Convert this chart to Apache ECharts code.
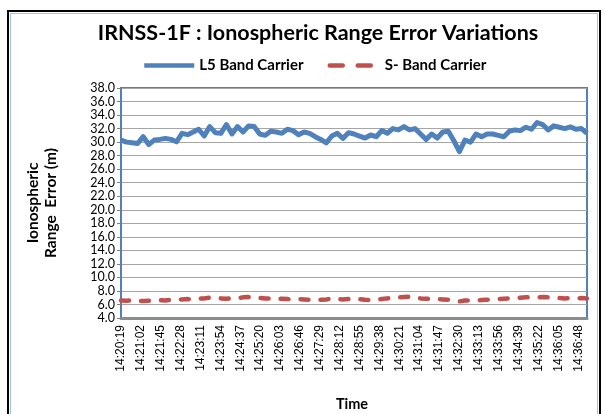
<!DOCTYPE html>
<html>
<head>
<meta charset="utf-8">
<script src="https://cdn.jsdelivr.net/npm/echarts@6/dist/echarts.min.js"></script>
<style>
  html, body { margin: 0; padding: 0; background: #fff; }
  #chart { width: 606px; height: 414px; }
</style>
</head>
<body>
<div id="chart"></div>
<script>
// time axis: seconds after 14:20:19, labels every 43 s
const START_TIME = '14:20:19';
const LABEL_STEP = 43;
const TIME_SPAN = 1008;
const SAMPLE_STEP = 12;   // one value read every 12 s along the trace

const seriesNames = ['L5 Band Carrier', 'S- Band Carrier'];

// (m)
const l5Values = [
  30.3, 30.0, 29.9, 29.8, 30.8, 29.65, 30.3, 30.4, 30.55, 30.4,
  30.05, 31.3, 31.1, 31.5, 31.9, 30.9, 32.3, 31.4, 31.3, 32.6,
  31.2, 32.3, 31.5, 32.4, 32.3, 31.2, 31.0, 31.6, 31.5, 31.3,
  31.9, 31.7, 31.1, 31.5, 31.3, 30.8, 30.4, 29.9, 30.9, 31.3,
  30.55, 31.4, 31.2, 30.9, 30.6, 31.05, 30.8, 31.7, 31.3, 32.0,
  31.8, 32.3, 31.8, 32.0, 31.2, 30.4, 31.2, 30.6, 31.5, 31.6,
  30.2, 28.6, 30.3, 30.0, 31.2, 30.8, 31.2, 31.2, 31.0, 30.8,
  31.6, 31.8, 31.7, 32.2, 31.9, 32.9, 32.6, 31.8, 32.4, 32.2,
  32.0, 32.25, 31.9, 32.0, 31.3
];

const sValues = [
  6.6, 6.55, 6.6, 6.55, 6.5, 6.55, 6.6, 6.65, 6.6, 6.7,
  6.7, 6.75, 6.8, 6.75, 6.85, 6.9, 7.0, 6.95, 6.9, 6.85,
  6.9, 6.95, 7.05, 7.1, 7.05, 6.95, 6.9, 6.85, 6.8, 6.85,
  6.8, 6.75, 6.8, 6.75, 6.7, 6.65, 6.7, 6.75, 6.85, 6.8,
  6.75, 6.8, 6.75, 6.8, 6.7, 6.65, 6.7, 6.8, 6.9, 6.95,
  7.05, 7.1, 7.15, 7.0, 6.9, 6.85, 6.8, 6.8, 6.75, 6.7,
  6.6, 6.45, 6.6, 6.55, 6.6, 6.65, 6.7, 6.75, 6.8, 6.85,
  6.9, 6.95, 7.0, 7.05, 7.1, 7.05, 7.1, 7.05, 7.0, 6.95,
  6.9, 6.95, 6.9, 6.95, 6.9
];

function toSeconds(str) {
  const p = str.split(':').map(Number);
  return p[0] * 3600 + p[1] * 60 + p[2];
}

function pad(n) {
  return (n < 10 ? '0' : '') + n;
}

function timeLabel(offset) {
  const s = toSeconds(START_TIME) + Math.round(offset);
  return Math.floor(s / 3600) + ':' + pad(Math.floor(s / 60) % 60) + ':' + pad(s % 60);
}

function withTime(values) {
  return values.map(function (v, i) { return [i * SAMPLE_STEP, v]; });
}

const chart = echarts.init(document.getElementById('chart'), null, { renderer: 'canvas' });

const option = {
  backgroundColor: '#fff',
  animation: false,
  legend: {
    left: 137,
    top: 53,
    itemWidth: 50,
    itemHeight: 14,
    itemGap: 24,
    itemStyle: { opacity: 0 },
    lineStyle: { width: 4.5 },
    textStyle: { fontFamily: 'Lato', fontWeight: 'bold', fontSize: 15, color: '#000' },
    data: [
      { name: seriesNames[0] },
      { name: seriesNames[1], lineStyle: { type: [13, 15], cap: 'round' } }
    ]
  },
  grid: {
    left: 121,
    right: 19,
    top: 88,
    bottom: 96,
    show: true,
    borderColor: '#4F81BD',
    borderWidth: 2,
    backgroundColor: '#fff'
  },
  xAxis: {
    type: 'value',
    min: 0,
    max: TIME_SPAN,
    interval: LABEL_STEP,
    axisLine: { show: true, lineStyle: { color: '#8C8C8C', width: 3 } },
    axisTick: { show: false },
    splitLine: { show: false },
    axisLabel: {
      rotate: 90,
      margin: 7,
      showMaxLabel: false,
      fontFamily: 'Liberation Sans',
      fontSize: 12,
      color: '#000',
      formatter: timeLabel
    }
  },
  yAxis: {
    type: 'value',
    min: 4,
    max: 38,
    interval: 2,
    axisLine: { show: true, lineStyle: { color: '#4F81BD', width: 2 } },
    axisTick: { show: true, length: 4, lineStyle: { color: '#808080' } },
    splitLine: { show: true, lineStyle: { color: '#A6A6A6', width: 1 } },
    axisLabel: {
      margin: 6,
      fontFamily: 'Lato',
      fontSize: 12.5,
      color: '#000',
      formatter: function (v) { return v.toFixed(1); }
    }
  },
  series: [
    {
      name: seriesNames[0],
      type: 'line',
      symbol: 'none',
      data: withTime(l5Values),
      lineStyle: { color: '#4F81BD', width: 5, join: 'round' },
      itemStyle: { color: '#4F81BD' },
      z: 3
    },
    {
      name: seriesNames[1],
      type: 'line',
      symbol: 'none',
      data: withTime(sValues),
      lineStyle: { color: '#C0504D', width: 4.5, type: [8, 12], cap: 'round' },
      itemStyle: { color: '#C0504D' },
      z: 4
    }
  ],
  graphic: [
    // chart frame
    { type: 'rect', shape: { x: 8, y: 11, width: 592, height: 420 },
      style: { fill: null, stroke: '#000', lineWidth: 2 }, silent: true },
    { type: 'rect', shape: { x: 10.5, y: 13.5, width: 587, height: 420 },
      style: { fill: null, stroke: '#9DC3E6', lineWidth: 1 }, silent: true },
    { type: 'text', x: 318, y: 33, style: {
        text: 'IRNSS-1F : Ionospheric Range Error Variations',
        fontFamily: 'Lato', fontWeight: 'bold', fontSize: 21.5, fill: '#000',
        align: 'center', verticalAlign: 'middle' } },
    { type: 'text', x: 42, y: 203, rotation: Math.PI / 2, style: {
        text: 'Ionospheric\nRange  Error (m)',
        fontFamily: 'Lato', fontWeight: 'bold', fontSize: 15.5, fill: '#000',
        lineHeight: 18, align: 'center', verticalAlign: 'middle' } },
    { type: 'text', x: 352, y: 404, style: {
        text: 'Time',
        fontFamily: 'Lato', fontWeight: 'bold', fontSize: 14.5, fill: '#000',
        align: 'center', verticalAlign: 'middle' } }
  ]
};

chart.setOption(option);
</script>
</body>
</html>
